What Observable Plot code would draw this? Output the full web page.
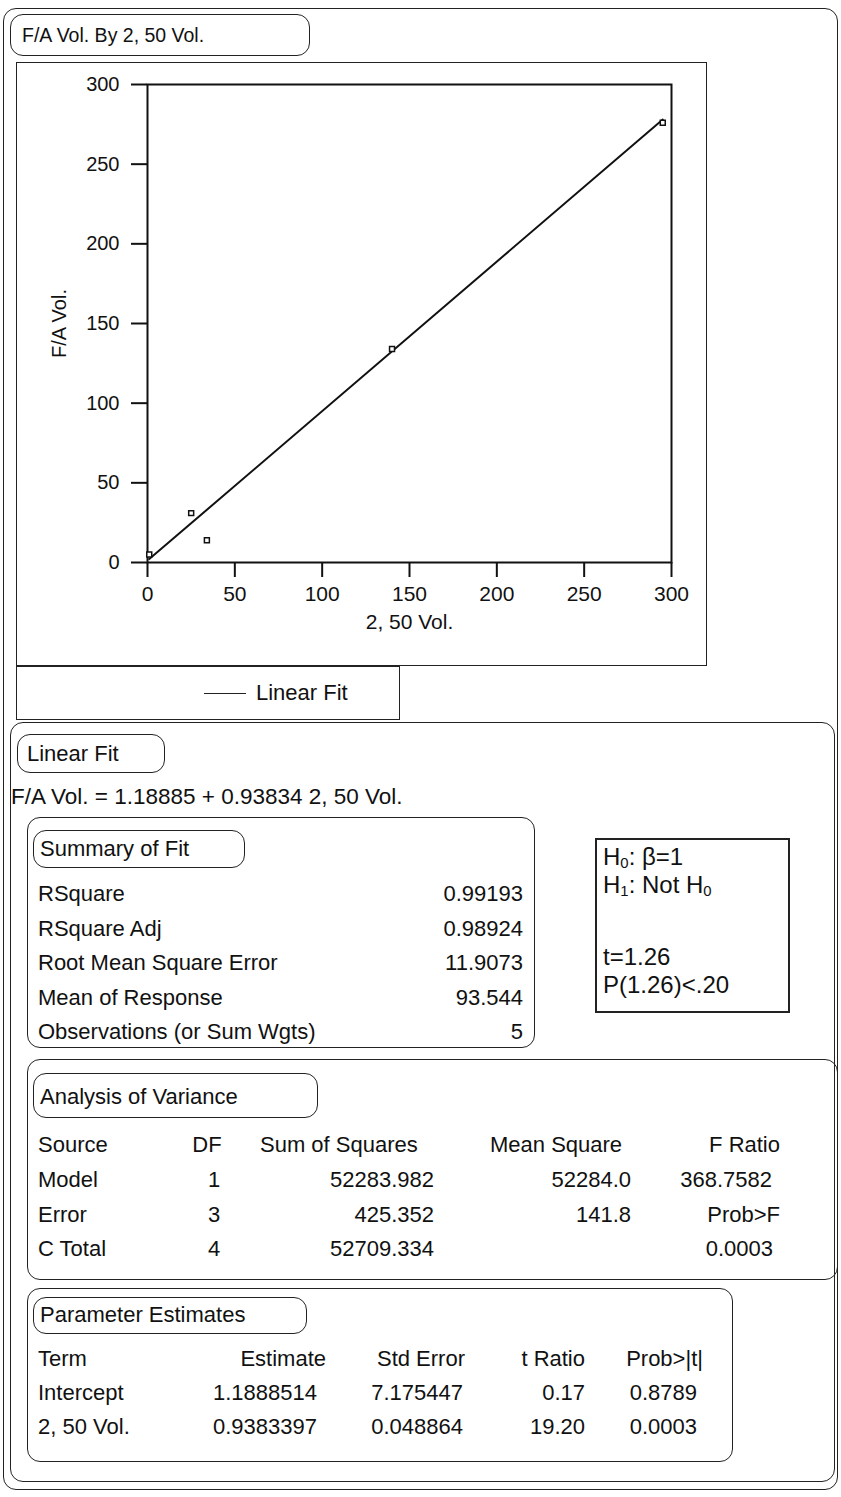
<!DOCTYPE html>
<html><head><meta charset="utf-8">
<script src="https://cdn.jsdelivr.net/npm/d3@7"></script>
<script src="https://cdn.jsdelivr.net/npm/@observablehq/plot@0.6"></script>
<style>
body{margin:0;background:#fff;font-family:"Liberation Sans",Arial,sans-serif;color:#111;}
#page{position:relative;width:841px;height:1497px;overflow:hidden;}
.box{position:absolute;border:1.5px solid #222;box-sizing:border-box;}
.rnd{border-radius:13px;}
.t{position:absolute;font-size:22px;white-space:nowrap;line-height:1;transform:translateY(-50%);}
.r{transform:translate(-100%,-50%);}
.c{transform:translate(-50%,-50%);}
#chart{position:absolute;left:16px;top:62px;}
sub{font-size:0.62em;vertical-align:-0.2em;line-height:0;}
</style>
</head><body><div id="page"></div>
<script>
// ---- data ----
const volX = [1, 25, 34, 140, 295];          // 2, 50 Vol.
const volY = [5, 31, 14, 134, 276];          // F/A Vol.
const fitCoef = [1.18885, 0.93834];          // intercept, slope
const xTicks = [0, 50, 100, 150, 200, 250, 300];
const yTicks = [0, 50, 100, 150, 200, 250, 300];
const summaryLabels = ["RSquare", "RSquare Adj", "Root Mean Square Error", "Mean of Response", "Observations (or Sum Wgts)"];
const summaryValues = ["0.99193", "0.98924", "11.9073", "93.544", "5"];
const anovaHeaders = ["Source", "DF", "Sum of Squares", "Mean Square", "F Ratio"];
const anovaSource = ["Model", "Error", "C Total"];
const anovaDF = ["1", "3", "4"];
const anovaSS = ["52283.982", "425.352", "52709.334"];
const anovaMS = ["52284.0", "141.8", ""];
const anovaF = ["368.7582", "Prob>F", "0.0003"];
const paramHeaders = ["Term", "Estimate", "Std Error", "t Ratio", "Prob>|t|"];
const paramTerm = ["Intercept", "2, 50 Vol."];
const paramEst = ["1.1888514", "0.9383397"];
const paramSE = ["7.175447", "0.048864"];
const paramT = ["0.17", "19.20"];
const paramP = ["0.8789", "0.0003"];

const page = document.getElementById("page");
function box(l, t, r, b, cls = "") {
  const d = document.createElement("div");
  d.className = "box " + cls;
  Object.assign(d.style, {left: l + "px", top: t + "px", width: (r - l) + "px", height: (b - t) + "px"});
  page.appendChild(d); return d;
}
function txt(s, x, y, cls = "", html = false) {
  const d = document.createElement("div");
  d.className = "t " + cls;
  if (html) d.innerHTML = s; else d.textContent = s;
  Object.assign(d.style, {left: x + "px", top: y + "px"});
  page.appendChild(d); return d;
}

// outer frame and title
box(3, 8, 838, 1490, "rnd");
box(10, 14, 310, 56, "rnd");
txt("F/A Vol. By 2, 50 Vol.", 22, 36).style.fontSize = "19.5px";
box(16, 62, 707, 666);

// chart
const pts = volX.map((x, i) => ({x, y: volY[i]}));
const fitLine = d3.extent(volX).map(x => ({x, y: fitCoef[0] + fitCoef[1] * x}));
const chart = Plot.plot({
  width: 691, height: 604,
  marginLeft: 131, marginRight: 36, marginTop: 22, marginBottom: 104,
  style: {fontFamily: "'Liberation Sans', Arial, sans-serif", fontSize: "20px", color: "#111", background: "transparent", overflow: "visible"},
  x: {domain: [0, 300]},
  y: {domain: [0, 300]},
  marks: [
    Plot.frame({stroke: "#111", strokeWidth: 2}),
    Plot.axisX({ticks: xTicks, tickSize: 15, tickPadding: 9, strokeWidth: 2, label: "2, 50 Vol.", labelAnchor: "center", labelArrow: "none", labelOffset: 66, fontSize: 21}),
    Plot.axisY({ticks: yTicks, tickSize: 16, tickPadding: 12, strokeWidth: 2, label: "F/A Vol.", labelAnchor: "center", labelArrow: "none", labelOffset: 96, fontSize: 20}),
    Plot.line(fitLine, {x: "x", y: "y", stroke: "#111", strokeWidth: 2}),
    Plot.dot(pts, {x: "x", y: "y", symbol: "square", r: 2.8, stroke: "#111", strokeWidth: 1.5, fill: "white"})
  ]
});
chart.id = "chart";
page.appendChild(chart);

// legend
box(16, 666, 400, 720);
const lg = document.createElement("div");
Object.assign(lg.style, {position: "absolute", left: "204px", top: "693px", width: "42px", height: "0", borderTop: "1.5px solid #222"});
page.appendChild(lg);
txt("Linear Fit", 256, 693);

// Linear fit section
box(10, 722, 835, 1482, "rnd");
box(17, 734, 165, 773, "rnd");
txt("Linear Fit", 27, 754);
txt("F/A Vol. = 1.18885 + 0.93834 2, 50 Vol.", 11, 797).style.fontSize = "22.5px";

// Summary of fit
box(27, 817, 535, 1048, "rnd");
box(33, 830, 245, 868, "rnd");
txt("Summary of Fit", 40, 849);
const sumY = [894, 929, 963, 998, 1032];
summaryLabels.forEach((s, i) => { txt(s, 38, sumY[i]); txt(summaryValues[i], 523, sumY[i], "r"); });

// hypothesis box
const hb = box(595, 838, 790, 1013);
hb.style.borderWidth = "2px";
[["H<sub>0</sub>: β=1", 857], ["H<sub>1</sub>: Not H<sub>0</sub>", 885], ["t=1.26", 957], ["P(1.26)&lt;.20", 985]]
  .forEach(([s, y]) => { txt(s, 603, y, "", true).style.fontSize = "24px"; });

// ANOVA
box(27, 1059, 838, 1280, "rnd");
box(33, 1073, 318, 1118, "rnd");
txt("Analysis of Variance", 40, 1097);
const aHy = 1145;
txt(anovaHeaders[0], 38, aHy);
txt(anovaHeaders[1], 207, aHy, "c");
txt(anovaHeaders[2], 260, aHy);
txt(anovaHeaders[3], 490, aHy);
txt(anovaHeaders[4], 780, aHy, "r");
const aRy = [1180, 1215, 1249];
anovaSource.forEach((s, i) => {
  txt(s, 38, aRy[i]);
  txt(anovaDF[i], 214, aRy[i], "c");
  txt(anovaSS[i], 434, aRy[i], "r");
  if (anovaMS[i]) txt(anovaMS[i], 631, aRy[i], "r");
});
txt(anovaF[0], 772, aRy[0], "r");
txt(anovaF[1], 780, aRy[1], "r");
txt(anovaF[2], 773, aRy[2], "r");

// Parameter estimates
box(27, 1288, 733, 1462, "rnd");
box(33, 1297, 307, 1334, "rnd");
txt("Parameter Estimates", 40, 1315);
const pHy = 1359;
txt(paramHeaders[0], 38, pHy);
txt(paramHeaders[1], 326, pHy, "r");
txt(paramHeaders[2], 465, pHy, "r");
txt(paramHeaders[3], 585, pHy, "r");
txt(paramHeaders[4], 703, pHy, "r");
const pRy = [1393, 1427];
paramTerm.forEach((s, i) => {
  txt(s, 38, pRy[i]);
  txt(paramEst[i], 317, pRy[i], "r");
  txt(paramSE[i], 463, pRy[i], "r");
  txt(paramT[i], 585, pRy[i], "r");
  txt(paramP[i], 697, pRy[i], "r");
});
</script>
</body></html>
